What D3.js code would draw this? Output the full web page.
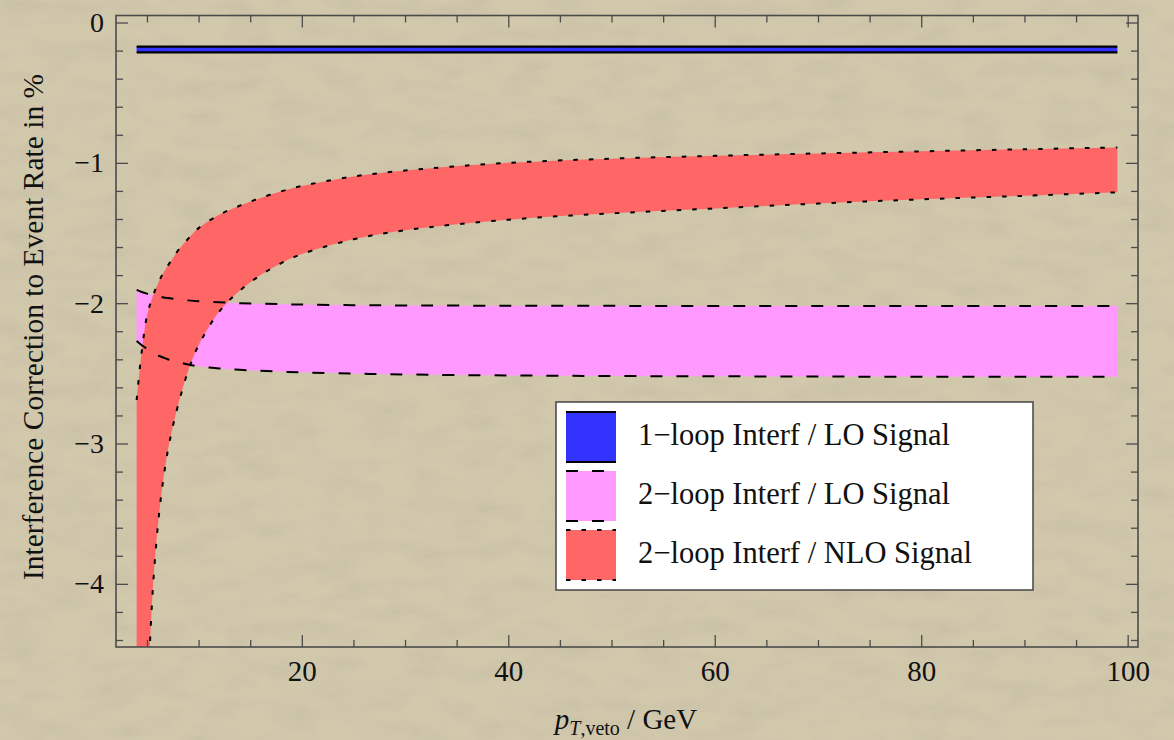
<!DOCTYPE html>
<html>
<head>
<meta charset="utf-8">
<script src="https://cdn.jsdelivr.net/npm/d3@7"></script>
<style>
  html, body { margin: 0; padding: 0; background: #cdc4a7; }
  svg { display: block; }
  text { font-family: "Liberation Serif", "Times New Roman", Times, serif; fill: #111; }
</style>
</head>
<body>
<svg id="chart" width="1174" height="740"></svg>
<script>
// ---- data -------------------------------------------------------------
// transverse-momentum veto values (GeV)
const ptVeto = [4, 4.5, 5, 5.5, 6, 6.5, 7, 7.5, 8, 9, 10, 12, 14, 16, 18, 20, 25, 30, 40, 50, 60, 70, 80, 90, 99];

// 1-loop interference / LO signal (flat band)
const oneLoopX     = [4, 99];
const oneLoopUpper = [-0.172, -0.172];
const oneLoopLower = [-0.213, -0.213];

// 2-loop interference / LO signal
const twoLoopLoUpper = [-1.905, -1.92, -1.932, -1.942, -1.95, -1.957, -1.963, -1.968, -1.972, -1.98, -1.986, -1.994, -2.0, -2.004, -2.007, -2.01, -2.014, -2.016, -2.018, -2.019, -2.02, -2.02, -2.02, -2.02, -2.02];
const twoLoopLoLower = [-2.27, -2.30, -2.325, -2.35, -2.37, -2.385, -2.40, -2.41, -2.42, -2.437, -2.45, -2.465, -2.475, -2.482, -2.488, -2.493, -2.502, -2.508, -2.515, -2.519, -2.521, -2.523, -2.524, -2.525, -2.525];

// 2-loop interference / NLO signal
const twoLoopNloUpper = [-2.69, -2.34, -2.09, -1.965, -1.87, -1.795, -1.735, -1.68, -1.625, -1.54, -1.465, -1.37, -1.305, -1.25, -1.203, -1.165, -1.097, -1.055, -1.0, -0.97, -0.95, -0.933, -0.918, -0.903, -0.89];
const twoLoopNloLower = [-7.5, -5.9, -4.95, -4.12, -3.63, -3.30, -3.06, -2.88, -2.73, -2.48, -2.30, -2.06, -1.91, -1.80, -1.715, -1.65, -1.545, -1.48, -1.405, -1.36, -1.325, -1.29, -1.26, -1.235, -1.21];

// axis ticks
const xMajorTicks = [20, 40, 60, 80, 100];
const xMinorTicks = [5, 10, 15, 25, 30, 35, 45, 50, 55, 65, 70, 75, 85, 90, 95];
const yMajorTicks = [0, -1, -2, -3, -4];
const yMinorTicks = [-0.2, -0.4, -0.6, -0.8, -1.2, -1.4, -1.6, -1.8, -2.2, -2.4, -2.6, -2.8, -3.2, -3.4, -3.6, -3.8, -4.2, -4.4];

const legendLabels = ["1\u2212loop Interf / LO Signal", "2\u2212loop Interf / LO Signal", "2\u2212loop Interf / NLO Signal"];

// ---- layout ------------------------------------------------------------
const W = 1174, H = 740;
const plot = { left: 116, right: 1138, top: 15.5, bottom: 647 };

const svg = d3.select("#chart");
const defs = svg.append("defs");

// fine paper texture for the backdrop
const paper = defs.append("filter").attr("id", "paper")
  .attr("x", 0).attr("y", 0).attr("width", "100%").attr("height", "100%");
paper.append("feTurbulence").attr("type", "fractalNoise")
  .attr("baseFrequency", "0.022 0.05").attr("numOctaves", 4).attr("seed", 5);
paper.append("feColorMatrix").attr("type", "matrix")
  .attr("values", "0 0 0 0 0.42  0 0 0 0 0.38  0 0 0 0 0.28  1.0 0 0 0 -0.38");

svg.append("rect").attr("width", W).attr("height", H).attr("fill", "#d2c9ad");
svg.append("rect").attr("width", W).attr("height", H).attr("filter", "url(#paper)").attr("opacity", 0.45);

defs.append("clipPath").attr("id", "plotClip")
  .append("rect")
  .attr("x", plot.left).attr("y", plot.top)
  .attr("width", plot.right - plot.left).attr("height", plot.bottom - plot.top);

const x = d3.scaleLinear().domain([2, 101]).range([plot.left, plot.right]);
const y = d3.scaleLinear().domain([-4.45, 0.05]).range([plot.bottom, plot.top]);

// ---- bands -------------------------------------------------------------
const curve = d3.curveCatmullRom.alpha(0.5);
const bandArea = d3.area()
  .x(d => x(d.x)).y0(d => y(d.lo)).y1(d => y(d.hi))
  .curve(curve);
const edge = d3.line().x(d => x(d.x)).y(d => y(d.v)).curve(curve);

function band(xs, hi, lo) { return xs.map((v, i) => ({ x: v, hi: hi[i], lo: lo[i] })); }

const bands = [
  { data: band(oneLoopX, oneLoopUpper, oneLoopLower), fill: "#3333ff", dash: null },
  { data: band(ptVeto, twoLoopLoUpper, twoLoopLoLower), fill: "#ff99ff", dash: "12,14" },
  { data: band(ptVeto, twoLoopNloUpper, twoLoopNloLower), fill: "#ff6666", dash: "4.5,11" }
];

const plotG = svg.append("g").attr("clip-path", "url(#plotClip)");

bands.forEach(b => {
  plotG.append("path").datum(b.data).attr("d", bandArea).attr("fill", b.fill);
});
bands.forEach(b => {
  ["hi", "lo"].forEach(k => {
    plotG.append("path")
      .datum(b.data.map(d => ({ x: d.x, v: d[k] })))
      .attr("d", edge)
      .attr("fill", "none")
      .attr("stroke", "#000")
      .attr("stroke-width", b.dash ? 2 : 2.2)
      .attr("stroke-dasharray", b.dash);
  });
});

// ---- frame and axes ------------------------------------------------------
const axisColor = "#4b4b4b";
const fmt = d3.format("d");

function styleAxis(g) {
  g.select(".domain").remove();
  g.selectAll(".tick line").attr("stroke", axisColor).attr("stroke-width", 1.3);
  g.selectAll(".tick text").attr("fill", "#111")
    .style("font-family", '"Liberation Serif", "Times New Roman", serif');
}

svg.append("g").attr("transform", `translate(0,${plot.bottom})`)
  .call(d3.axisBottom(x).tickValues(xMajorTicks).tickSize(-12).tickPadding(13).tickFormat(fmt))
  .call(styleAxis).selectAll("text").style("font-size", "29px");
svg.append("g").attr("transform", `translate(0,${plot.bottom})`)
  .call(d3.axisBottom(x).tickValues(xMinorTicks).tickSize(-7).tickFormat(""))
  .call(styleAxis);
svg.append("g").attr("transform", `translate(0,${plot.top})`)
  .call(d3.axisTop(x).tickValues(xMajorTicks).tickSize(-12).tickFormat(""))
  .call(styleAxis);
svg.append("g").attr("transform", `translate(0,${plot.top})`)
  .call(d3.axisTop(x).tickValues(xMinorTicks).tickSize(-7).tickFormat(""))
  .call(styleAxis);

svg.append("g").attr("transform", `translate(${plot.left},0)`)
  .call(d3.axisLeft(y).tickValues(yMajorTicks).tickSize(-12).tickPadding(12).tickFormat(fmt))
  .call(styleAxis).selectAll("text").style("font-size", "28px");
svg.append("g").attr("transform", `translate(${plot.left},0)`)
  .call(d3.axisLeft(y).tickValues(yMinorTicks).tickSize(-7).tickFormat(""))
  .call(styleAxis);
svg.append("g").attr("transform", `translate(${plot.right},0)`)
  .call(d3.axisRight(y).tickValues(yMajorTicks).tickSize(-12).tickFormat(""))
  .call(styleAxis);
svg.append("g").attr("transform", `translate(${plot.right},0)`)
  .call(d3.axisRight(y).tickValues(yMinorTicks).tickSize(-7).tickFormat(""))
  .call(styleAxis);

svg.append("rect")
  .attr("x", plot.left).attr("y", plot.top)
  .attr("width", plot.right - plot.left).attr("height", plot.bottom - plot.top)
  .attr("fill", "none").attr("stroke", axisColor).attr("stroke-width", 1.6);

// ---- axis titles ---------------------------------------------------------
const xTitle = svg.append("text")
  .attr("x", 626).attr("y", 729)
  .attr("text-anchor", "middle")
  .style("font-size", "29px");
xTitle.append("tspan").attr("font-style", "italic").text("p");
xTitle.append("tspan").attr("font-style", "italic").attr("dy", 6).style("font-size", "20px").text("T");
xTitle.append("tspan").style("font-size", "20px").text(",veto");
xTitle.append("tspan").attr("dy", -6).text(" / GeV");

svg.append("text")
  .attr("transform", "translate(43,327) rotate(-90)")
  .attr("text-anchor", "middle")
  .style("font-size", "29.5px")
  .text("Interference Correction to Event Rate in %");

// ---- legend --------------------------------------------------------------
const legend = svg.append("g").attr("transform", "translate(556,402)");
legend.append("rect")
  .attr("width", 477).attr("height", 188)
  .attr("fill", "#fff").attr("stroke", "#4e4e4e").attr("stroke-width", 1.6);

bands.forEach((b, i) => {
  const row = legend.append("g").attr("transform", `translate(10,${10 + i * 59})`);
  row.append("rect").attr("width", 50).attr("height", 50).attr("fill", b.fill);
  [0, 50].forEach(yy => {
    row.append("line")
      .attr("x1", 0).attr("x2", 50).attr("y1", yy).attr("y2", yy)
      .attr("stroke", "#000")
      .attr("stroke-width", b.dash ? 2 : 2.2)
      .attr("stroke-dasharray", b.dash);
  });
  row.append("text")
    .attr("x", 72).attr("y", 33)
    .style("font-size", "30.5px")
    .text(legendLabels[i]);
});
</script>
</body>
</html>
